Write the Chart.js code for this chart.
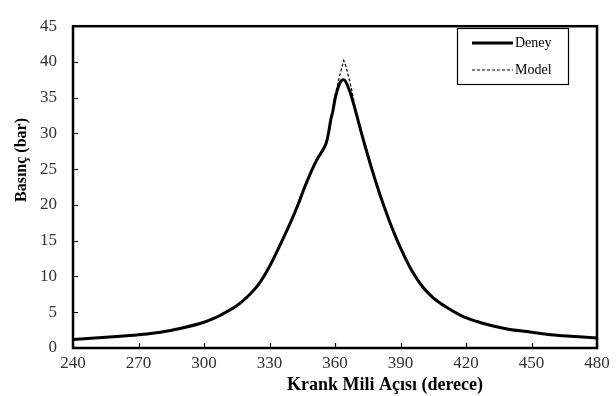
<!DOCTYPE html>
<html>
<head>
<meta charset="utf-8">
<script src="https://cdn.jsdelivr.net/npm/chart.js@4.4.1/dist/chart.umd.min.js"></script>
<style>
  html, body { margin: 0; padding: 0; background: #fff; }
</style>
</head>
<body>
<canvas id="c" width="616" height="396"></canvas>
<script>
// ── Data ──────────────────────────────────────────────────────────────────
const angle = [240, 250, 260, 270, 280, 290, 300, 305, 310, 315, 320, 325, 330, 335,
  340, 343, 346, 349, 352, 355, 356, 357, 358, 359, 360, 361, 362, 363, 364, 365,
  366, 367, 368, 369, 370, 372, 374, 376, 378, 380, 382, 385, 388, 390, 395, 400,
  405, 410, 418, 425, 432, 440, 448, 455, 463, 470, 480];

const deney = [1.2, 1.4, 1.6, 1.85, 2.2, 2.8, 3.6, 4.2, 5.0, 5.9, 7.2, 8.9, 11.4, 14.5,
  17.8, 20.0, 22.4, 24.6, 26.5, 28.0, 28.7, 30.0, 31.8, 33.1, 34.8, 36.0, 36.9, 37.4, 37.5, 37.2,
  36.5, 35.7, 34.7, 33.6, 32.5, 30.2, 28.0, 25.9, 23.9, 22.0, 20.2, 17.7, 15.4, 14.0, 10.9, 8.6,
  7.0, 5.9, 4.5, 3.7, 3.1, 2.6, 2.3, 2.0, 1.75, 1.6, 1.4];

const model = [1.2, 1.4, 1.6, 1.85, 2.2, 2.8, 3.6, 4.2, 5.0, 5.9, 7.2, 8.9, 11.4, 14.5,
  17.8, 20.0, 22.4, 24.6, 26.5, 28.0, 28.7, 30.0, 32.0, 33.6, 35.3, 36.6, 37.9, 39.1, 40.2, 39.4,
  38.2, 37.0, 35.6, 34.0, 32.5, 30.2, 28.0, 25.9, 23.9, 22.0, 20.2, 17.7, 15.4, 14.0, 10.9, 8.6,
  7.0, 5.9, 4.5, 3.7, 3.1, 2.6, 2.3, 2.0, 1.75, 1.6, 1.4];

const seriesNames = ["Deney", "Model"];
const xTitle = "Krank Mili Açısı (derece)";
const yTitle = "Basınç (bar)";
const xMin = 240, xMax = 480, xStep = 30;
const yMin = 0, yMax = 45, yStep = 5;

const SERIF = "'Liberation Serif', 'Times New Roman', serif";
const toPoints = (ys) => angle.map((a, i) => ({ x: a, y: ys[i] }));

// ── Frame, inward tick marks, axis titles and boxed legend ────────────────
const decorPlugin = {
  id: "decor",
  afterDatasetsDraw(chart) {
    const { ctx, chartArea: a, scales: { x, y } } = chart;
    ctx.save();

    // inward tick marks
    ctx.strokeStyle = "#000";
    ctx.lineWidth = 1.2;
    ctx.beginPath();
    x.ticks.forEach((t) => {
      const px = Math.round(x.getPixelForValue(t.value)) + 0.5;
      ctx.moveTo(px, a.bottom);
      ctx.lineTo(px, a.bottom - 5);
    });
    y.ticks.forEach((t) => {
      const py = Math.round(y.getPixelForValue(t.value)) + 0.5;
      ctx.moveTo(a.left, py);
      ctx.lineTo(a.left + 5, py);
    });
    ctx.stroke();

    // plot frame
    ctx.lineWidth = 2.5;
    ctx.strokeRect(a.left, a.top, a.right - a.left, a.bottom - a.top);

    // axis titles — both sit off-centre in the original
    ctx.fillStyle = "#000";
    ctx.textAlign = "center";
    ctx.textBaseline = "middle";
    ctx.font = "bold 18px " + SERIF;
    ctx.fillText(xTitle, 385, 385);
    ctx.font = "bold 16px " + SERIF;
    ctx.translate(22, 160);
    ctx.rotate(-Math.PI / 2);
    ctx.fillText(yTitle, 0, 0);
    ctx.setTransform(1, 0, 0, 1, 0, 0);

    // legend box
    ctx.lineWidth = 1.2;
    ctx.strokeRect(457.5, 28.5, 111, 56);
    ctx.font = "14px " + SERIF;
    ctx.textAlign = "left";
    chart.data.datasets.forEach((ds, i) => {
      const ly = 43 + i * 27;
      ctx.beginPath();
      ctx.strokeStyle = ds.borderColor;
      ctx.lineWidth = ds.borderWidth;
      ctx.setLineDash(ds.borderDash || []);
      ctx.moveTo(472, ly);
      ctx.lineTo(513, ly);
      ctx.stroke();
      ctx.setLineDash([]);
      ctx.fillText(ds.label, 515, ly);
    });

    ctx.restore();
  },
};

// ── Chart ─────────────────────────────────────────────────────────────────
new Chart(document.getElementById("c"), {
  type: "line",
  data: {
    datasets: [
      {
        label: seriesNames[0],
        data: toPoints(deney),
        borderColor: "#000",
        borderWidth: 3,
        pointRadius: 0,
        cubicInterpolationMode: "monotone",
      },
      {
        label: seriesNames[1],
        data: toPoints(model),
        borderColor: "#000",
        borderWidth: 1.2,
        borderDash: [3, 2],
        pointRadius: 0,
        tension: 0,
      },
    ],
  },
  options: {
    responsive: false,
    animation: false,
    devicePixelRatio: 1,
    layout: { padding: { left: 0, right: 19, top: 11, bottom: 0 } },
    plugins: { legend: { display: false }, tooltip: { enabled: false } },
    scales: {
      x: {
        type: "linear",
        min: xMin,
        max: xMax,
        grid: { display: false, drawTicks: false },
        border: { display: false },
        ticks: {
          stepSize: xStep,
          padding: 5,
          maxRotation: 0,
          color: "#333",
          font: { family: SERIF, size: 17 },
        },
        afterFit(scale) { scale.height = 48; },
      },
      y: {
        min: yMin,
        max: yMax,
        grid: { display: false, drawTicks: false },
        border: { display: false },
        ticks: {
          stepSize: yStep,
          padding: 16,
          color: "#333",
          font: { family: SERIF, size: 17 },
        },
        afterFit(scale) { scale.width = 73; },
      },
    },
  },
  plugins: [decorPlugin],
});
</script>
</body>
</html>
